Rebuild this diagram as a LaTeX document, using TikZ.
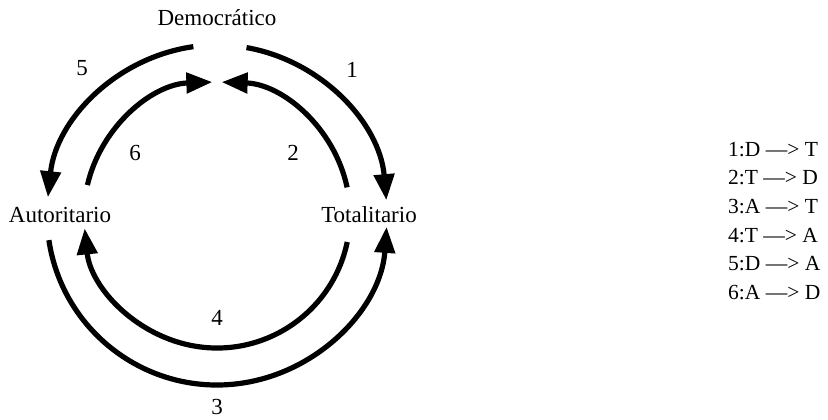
\documentclass[tikz,border=0pt]{standalone}
\usepackage{fontspec}
\setmainfont{Liberation Serif}
\usepackage{tikz}
\usetikzlibrary{positioning}
\usetikzlibrary{arrows.meta}
\tikzset{
    state/.style={font=\fontsize{23bp}{27bp}\selectfont, inner sep=0pt},
    num/.style={font=\fontsize{23bp}{27bp}\selectfont, inner sep=0pt},
    key/.style={font=\fontsize{21.5bp}{26bp}\selectfont, inner sep=0pt, anchor=north west},
    flow/.style={line width=5.2bp, -{Triangle[length=26bp,width=20bp]}},
}

\begin{document}
\begin{tikzpicture}[x=1bp,y=1bp]
    \useasboundingbox (0,0) rectangle (828,419);
    \coordinate (c) at (217,204);
    \node (dem) [state] at (217,401) {Democrático};
    \node (aut) [state] at (60,204) {Autoritario};
    \node (tot) [state] at (369,204) {Totalitario};
    % outer ring
    \draw[flow] (c) ++(80:170) arc[start angle=80, end angle=5, radius=170];
    \draw[flow] (c) ++(98:170) arc[start angle=98, end angle=174, radius=170];
    \draw[flow] (c) ++(188.5:170) arc[start angle=188.5, end angle=356, radius=170];
    % inner ring
    \draw[flow] (c) ++(12:133) arc[start angle=12, end angle=88, radius=133];
    \draw[flow] (c) ++(167:133) arc[start angle=167, end angle=92, radius=133];
    \draw[flow] (c) ++(-11.7:133) arc[start angle=-11.7, end angle=-174.2, radius=133];
    \node (n1) [num] at (352,349) {1};
    \node (n2) [num] at (293,266) {2};
    \node (n3) [num] at (217,12) {3};
    \node (n4) [num] at (217,101) {4};
    \node (n5) [num] at (82,351) {5};
    \node (n6) [num] at (135,266) {6};
    % legend
    \node (k1) [key, anchor=base west] at (728,263) {1:D —> T};
    \node (k2) [below=13.8bp of k1.south west, key] {2:T —> D};
    \node (k3) [below=13.8bp of k2.south west, key] {3:A —> T};
    \node (k4) [below=13.8bp of k3.south west, key] {4:T —> A};
    \node (k5) [below=13.8bp of k4.south west, key] {5:D —> A};
    \node (k6) [below=13.8bp of k5.south west, key] {6:A —> D};
\end{tikzpicture}
\end{document}
